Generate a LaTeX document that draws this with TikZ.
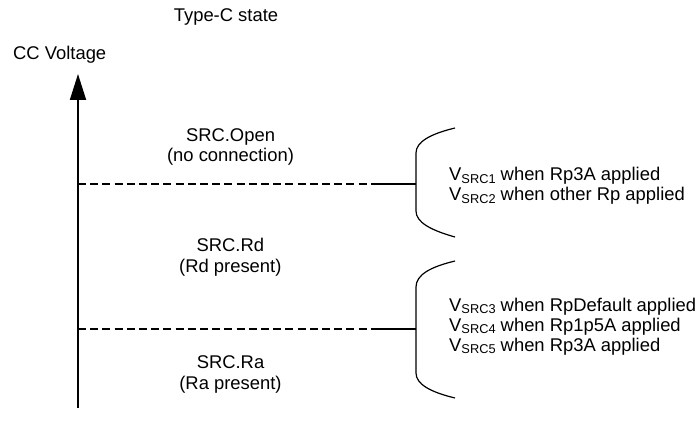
\documentclass[tikz,border=0pt]{standalone}
\usepackage{fontspec}
\setmainfont{Liberation Sans}
\usetikzlibrary{arrows.meta}
\newcommand{\vsub}[1]{V\raisebox{-0.22ex}{\fontsize{12.8}{12.8}\selectfont #1}}
\tikzset{
  lbl/.style={font=\fontsize{18.4}{20.7}\selectfont, inner sep=0pt, align=center},
  txt/.style={font=\fontsize{18.4}{20}\selectfont, inner sep=0pt, align=left, anchor=base west},
  dashln/.style={line width=1.2pt, dash pattern=on 8pt off 4.2pt},
  solidln/.style={line width=1.3pt},
  brace/.style={line width=1.2pt},
  axis/.style={line width=1.8pt, -{Triangle[width=16pt,length=26pt]}}
}
\begin{document}
\begin{tikzpicture}[x=1pt,y=-1pt]
\useasboundingbox (0,0) rectangle (698,438);
\node[lbl, anchor=base] (title) at (226,21.7) {Type-C state};
\node[lbl, anchor=base] (ylab) at (59.7,59.3) {CC Voltage};
\coordinate (ax0) at (78,408);
\coordinate (ax1) at (78,74);
\draw[axis] (ax0) -- (ax1);
% level lines
\coordinate (d1s) at (78,184);
\coordinate (d1e) at (378,184);
\coordinate (b1) at (416,184);
\coordinate (d2s) at (78,329);
\coordinate (d2e) at (378,329);
\coordinate (b2) at (416,329);
\draw[dashln] (d1s) -- (d1e);
\draw[solidln] (d1e) -- (b1);
\draw[dashln] (d2s) -- (d2e);
\draw[solidln] (d2e) -- (b2);
% braces
\draw[brace] (455,128) .. controls (430,134) and (416,142) .. (416,153) -- (416,211) .. controls (416,222) and (430,230) .. (455,237);
\draw[brace] (455,261) .. controls (430,267) and (416,275) .. (416,287) -- (416,373) .. controls (416,384) and (430,392) .. (455,398);
% region labels (base = last line)
\node[lbl, anchor=base] (open) at (230.5,162) {SRC.Open\\(no connection)};
\node[lbl, anchor=base] (rd) at (230.3,272.4) {SRC.Rd\\(Rd present)};
\node[lbl, anchor=base] (ra) at (230.5,389) {SRC.Ra\\(Ra present)};
% value texts
\node[txt] (v1) at (449,201) {\vsub{SRC1} when Rp3A applied\\\vsub{SRC2} when other Rp applied};
\node[txt] (v2) at (449,351.7) {\vsub{SRC3} when RpDefault applied\\\vsub{SRC4} when Rp1p5A applied\\\vsub{SRC5} when Rp3A applied};
\end{tikzpicture}
\end{document}
